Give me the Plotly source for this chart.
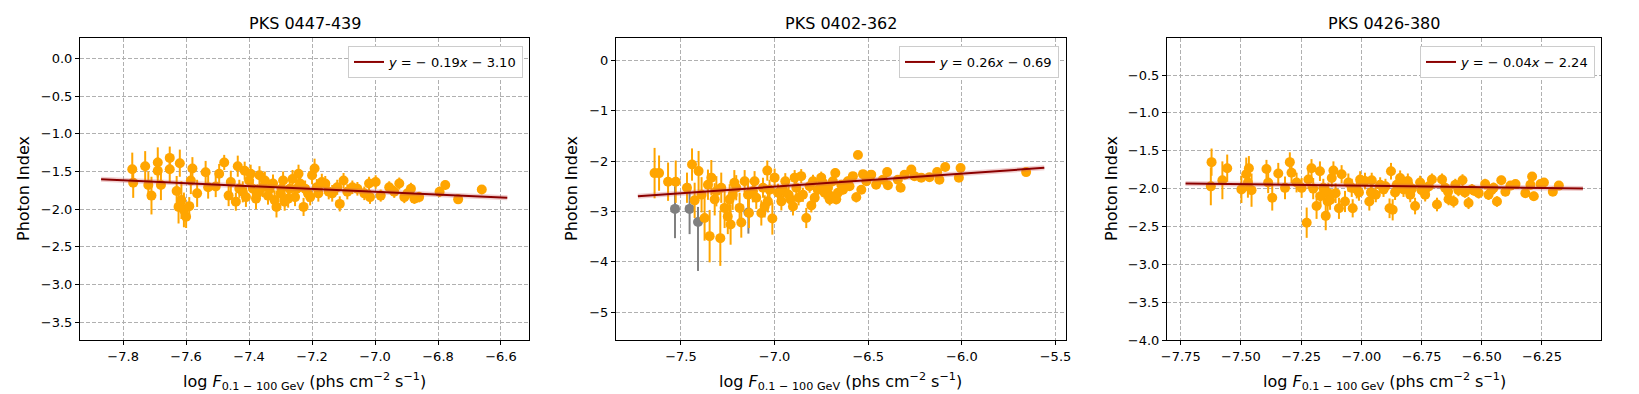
import plotly.graph_objects as go
from plotly.subplots import make_subplots

# sources
titles = ["PKS 0447-439", "PKS 0402-362", "PKS 0426-380"]

# fit coefficients (slope, intercept) and x extent of the fit line
fit_slope = [-0.19, 0.26, -0.04]
fit_icept = [-3.10, -0.69, -2.24]
fit_x0 = [-7.87, -7.73, -7.73]
fit_x1 = [-6.58, -5.56, -6.08]
fit_text = ["<i>y</i> = − 0.19<i>x</i> − 3.10",
            "<i>y</i> = 0.26<i>x</i> − 0.69",
            "<i>y</i> = − 0.04<i>x</i> − 2.24"]

# PKS 0447-439
x1 = [-7.771, -7.768, -7.730, -7.720, -7.710, -7.690, -7.690, -7.680, -7.652, -7.652,
      -7.630, -7.624, -7.620, -7.615, -7.607, -7.600, -7.590, -7.585, -7.580, -7.565,
      -7.538, -7.530, -7.506, -7.495, -7.479, -7.465, -7.458, -7.442, -7.436, -7.431,
      -7.420, -7.414, -7.410, -7.400, -7.395, -7.388, -7.378, -7.373, -7.367, -7.356,
      -7.350, -7.340, -7.335, -7.324, -7.319, -7.313, -7.300, -7.297, -7.292, -7.287,
      -7.276, -7.271, -7.262, -7.254, -7.249, -7.243, -7.238, -7.227, -7.222, -7.213,
      -7.206, -7.200, -7.192, -7.185, -7.180, -7.169, -7.158, -7.147, -7.136, -7.120,
      -7.112, -7.100, -7.088, -7.072, -7.056, -7.034, -7.019, -7.016, -6.998, -6.982,
      -6.955, -6.939, -6.923, -6.907, -6.897, -6.886, -6.875, -6.860, -6.795, -6.777,
      -6.736, -6.661]
y1 = [-1.47, -1.65, -1.43, -1.68, -1.82, -1.38, -1.49, -1.68, -1.32, -1.47,
      -1.76, -1.97, -1.39, -1.88, -2.01, -2.10, -1.96, -1.62, -1.46, -1.79,
      -1.51, -1.71, -1.70, -1.53, -1.38, -1.82, -1.64, -1.90, -1.43, -1.73,
      -1.77, -1.49, -1.84, -1.62, -1.53, -1.73, -1.86, -1.79, -1.55, -1.71,
      -1.62, -1.82, -1.73, -1.66, -1.88, -1.97, -1.79, -1.73, -1.62, -1.90,
      -1.86, -1.73, -1.60, -1.84, -1.73, -1.53, -1.66, -1.97, -1.73, -1.79,
      -1.84, -1.55, -1.46, -1.71, -1.79, -1.64, -1.66, -1.77, -1.79, -1.71,
      -1.93, -1.62, -1.77, -1.71, -1.73, -1.79, -1.66, -1.84, -1.64, -1.82,
      -1.71, -1.77, -1.66, -1.84, -1.79, -1.73, -1.86, -1.84, -1.77, -1.68,
      -1.87, -1.74]
e1 = [0.22, 0.20, 0.20, 0.18, 0.25, 0.20, 0.18, 0.20, 0.15, 0.18,
      0.20, 0.22, 0.18, 0.25, 0.23, 0.15, 0.12, 0.18, 0.15, 0.18,
      0.15, 0.15, 0.14, 0.13, 0.10, 0.14, 0.15, 0.12, 0.14, 0.12,
      0.14, 0.12, 0.13, 0.12, 0.12, 0.13, 0.14, 0.12, 0.12, 0.13,
      0.12, 0.12, 0.12, 0.12, 0.13, 0.14, 0.12, 0.12, 0.12, 0.12,
      0.12, 0.11, 0.12, 0.12, 0.11, 0.12, 0.11, 0.12, 0.11, 0.11,
      0.11, 0.12, 0.13, 0.11, 0.11, 0.11, 0.10, 0.10, 0.11, 0.10,
      0.10, 0.10, 0.10, 0.09, 0.09, 0.09, 0.09, 0.09, 0.09, 0.08,
      0.08, 0.08, 0.08, 0.08, 0.08, 0.08, 0.07, 0.07, 0.07, 0.06,
      0.06, 0.06]

# PKS 0402-362
x2 = [-7.641, -7.617, -7.569, -7.528, -7.468, -7.441, -7.427, -7.406, -7.390, -7.374,
      -7.356, -7.347, -7.338, -7.320, -7.311, -7.290, -7.285, -7.267, -7.250, -7.240,
      -7.235, -7.224, -7.215, -7.205, -7.187, -7.178, -7.160, -7.142, -7.137, -7.116,
      -7.107, -7.098, -7.071, -7.062, -7.053, -7.039, -7.036, -7.027, -7.012, -7.000,
      -6.982, -6.964, -6.955, -6.943, -6.925, -6.915, -6.902, -6.893, -6.884, -6.872,
      -6.858, -6.849, -6.831, -6.813, -6.804, -6.795, -6.786, -6.769, -6.751, -6.742,
      -6.733, -6.715, -6.706, -6.698, -6.689, -6.676, -6.671, -6.662, -6.644, -6.635,
      -6.609, -6.600, -6.582, -6.564, -6.555, -6.537, -6.528, -6.510, -6.484, -6.458,
      -6.422, -6.399, -6.395, -6.342, -6.327, -6.306, -6.270, -6.253, -6.217, -6.173,
      -6.132, -6.120, -6.089, -6.016, -6.007, -5.657]
y2 = [-2.24, -2.24, -2.41, -2.41, -2.53, -2.07, -2.78, -2.20, -2.67, -3.13,
      -2.47, -3.49, -2.33, -2.76, -2.60, -3.53, -2.53, -2.93, -3.10, -2.76,
      -3.26, -2.67, -2.43, -2.53, -2.93, -3.22, -2.40, -2.67, -3.03, -2.60,
      -2.40, -2.73, -3.03, -2.53, -2.90, -2.19, -2.80, -2.57, -3.14, -2.33,
      -2.63, -2.80, -2.57, -2.40, -2.67, -2.76, -2.90, -2.33, -2.53, -2.73,
      -2.30, -2.67, -3.13, -2.50, -2.88, -2.40, -2.73, -2.57, -2.33, -2.43,
      -2.63, -2.53, -2.76, -2.70, -2.40, -2.24, -2.76, -2.63, -2.47, -2.57,
      -2.40, -2.50, -2.30, -2.72, -1.88, -2.57, -2.26, -2.40, -2.27, -2.47,
      -2.37, -2.22, -2.48, -2.37, -2.53, -2.27, -2.17, -2.30, -2.33, -2.32,
      -2.22, -2.37, -2.12, -2.33, -2.14, -2.22]
e2 = [0.50, 0.35, 0.38, 0.42, 0.30, 0.32, 0.35, 0.40, 0.35, 0.45,
      0.30, 0.52, 0.35, 0.32, 0.30, 0.55, 0.30, 0.40, 0.35, 0.30,
      0.40, 0.30, 0.25, 0.25, 0.30, 0.30, 0.22, 0.25, 0.30, 0.22,
      0.20, 0.22, 0.25, 0.20, 0.22, 0.20, 0.22, 0.20, 0.32, 0.18,
      0.18, 0.18, 0.16, 0.16, 0.16, 0.16, 0.18, 0.15, 0.15, 0.15,
      0.14, 0.14, 0.20, 0.13, 0.14, 0.13, 0.13, 0.12, 0.12, 0.12,
      0.12, 0.11, 0.12, 0.11, 0.10, 0.10, 0.10, 0.10, 0.09, 0.09,
      0.09, 0.09, 0.08, 0.10, 0.07, 0.08, 0.07, 0.07, 0.07, 0.07,
      0.06, 0.06, 0.06, 0.06, 0.06, 0.05, 0.05, 0.05, 0.05, 0.05,
      0.05, 0.05, 0.05, 0.05, 0.05, 0.05]
# low-significance bins (grey)
xg = [-7.532, -7.454, -7.409, -7.140]
yg = [-2.95, -2.95, -3.21, -3.02]
eg_up = [0.45, 0.50, 0.30, 0.42]
eg_down = [0.58, 0.50, 0.97, 0.42]

# PKS 0426-380
x3 = [-7.625, -7.622, -7.577, -7.557, -7.498, -7.478, -7.471, -7.467, -7.456, -7.394,
      -7.387, -7.370, -7.345, -7.317, -7.297, -7.290, -7.269, -7.248, -7.227, -7.220,
      -7.207, -7.186, -7.172, -7.158, -7.148, -7.140, -7.137, -7.123, -7.116, -7.107,
      -7.093, -7.082, -7.068, -7.054, -7.040, -7.036, -7.019, -7.005, -6.985, -6.967,
      -6.957, -6.940, -6.922, -6.908, -6.883, -6.877, -6.870, -6.853, -6.839, -6.825,
      -6.807, -6.797, -6.777, -6.756, -6.735, -6.707, -6.686, -6.665, -6.652, -6.638,
      -6.617, -6.610, -6.597, -6.580, -6.555, -6.541, -6.513, -6.486, -6.472, -6.451,
      -6.437, -6.419, -6.402, -6.381, -6.360, -6.319, -6.298, -6.291, -6.284, -6.256,
      -6.242, -6.205, -6.180,
      -6.960, -6.900, -6.860, -6.820, -6.790, -6.750, -6.720, -6.640, -6.570, -6.530,
      -6.460, -7.200, -7.170, -7.130, -7.010]
y3 = [-1.97, -1.65, -1.89, -1.73, -2.01, -1.81, -1.92, -1.73, -2.02, -1.74,
      -1.92, -2.12, -1.80, -1.99, -1.65, -1.79, -1.92, -1.99, -2.45, -1.88,
      -1.73, -2.23, -1.77, -1.99, -2.36, -2.17, -2.06, -1.86, -1.76, -2.06,
      -2.26, -1.81, -2.17, -1.92, -1.99, -2.26, -2.01, -1.88, -1.90, -2.17,
      -1.89, -2.08, -1.95, -2.01, -2.26, -1.77, -2.28, -1.95, -1.86, -2.01,
      -1.90, -2.08, -2.23, -1.92, -2.08, -1.88, -2.21, -1.88, -1.99, -2.14,
      -2.17, -1.95, -2.02, -1.89, -2.19, -2.01, -2.06, -1.94, -2.08, -1.99,
      -2.17, -1.89, -2.04, -1.96, -1.94, -2.06, -1.95, -1.84, -2.10, -1.94,
      -1.92, -2.04, -1.96,
      -2.05, -1.97, -2.05, -1.95, -2.00, -2.02, -1.97, -2.04, -2.05, -2.03,
      -2.02, -2.00, -2.10, -2.15, -2.05]
e3 = [0.25, 0.18, 0.25, 0.18, 0.18, 0.22, 0.20, 0.16, 0.22, 0.12,
      0.14, 0.17, 0.14, 0.15, 0.13, 0.14, 0.13, 0.13, 0.20, 0.12,
      0.12, 0.17, 0.13, 0.12, 0.19, 0.16, 0.14, 0.12, 0.12, 0.13,
      0.14, 0.12, 0.14, 0.12, 0.12, 0.12, 0.12, 0.11, 0.11, 0.12,
      0.10, 0.10, 0.10, 0.10, 0.13, 0.11, 0.14, 0.10, 0.10, 0.10,
      0.10, 0.10, 0.11, 0.09, 0.09, 0.08, 0.09, 0.08, 0.08, 0.08,
      0.08, 0.08, 0.08, 0.08, 0.08, 0.07, 0.07, 0.07, 0.07, 0.07,
      0.07, 0.06, 0.06, 0.06, 0.06, 0.06, 0.06, 0.06, 0.06, 0.05,
      0.05, 0.05, 0.05,
      0.10, 0.10, 0.10, 0.09, 0.09, 0.08, 0.08, 0.07, 0.07, 0.06,
      0.06, 0.14, 0.14, 0.13, 0.11]

xs = [x1, x2, x3]
ys = [y1, y2, y3]
es = [e1, e2, e3]

# axis settings
x_ranges = [[-7.937, -6.511], [-7.847, -5.444], [-7.807, -6.005]]
y_ranges = [[-3.735, 0.27], [-5.55, 0.44], [-4.0, -0.01]]
x_dtick = [0.2, 0.5, 0.25]
x_fmt = [".1f", ".1f", ".2f"]
y_dtick = [0.5, 1, 0.5]
y_fmt = [".1f", "d", ".1f"]

W, H = 1639, 394
x_dom = [[72 / W, 521 / W], [608 / W, 1058 / W], [1159 / W, 1593 / W]]
y_dom = [1 - 332 / H, 1 - 30 / H]
legend_right = [515, 1051, 1587]
ylabel_x = [15, 563, 1103]

ORANGE = "#FFA500"
FONT = "DejaVu Sans"

fig = make_subplots(rows=1, cols=3)

for i in range(3):
    col = i + 1
    leg = "legend" if i == 0 else "legend%d" % (i + 1)

    if i == 1:
        fig.add_trace(go.Scatter(
            x=xg, y=yg, mode="markers",
            marker=dict(color="gray", size=10),
            error_y=dict(type="data", array=eg_up, arrayminus=eg_down, symmetric=False,
                         color="gray", thickness=2, width=0),
            showlegend=False), row=1, col=col)

    fig.add_trace(go.Scatter(
        x=xs[i], y=ys[i], mode="markers",
        marker=dict(color=ORANGE, size=10),
        error_y=dict(type="data", array=es[i], color=ORANGE, thickness=2, width=0),
        showlegend=False), row=1, col=col)

    fx = [fit_x0[i], fit_x1[i]]
    fy = [fit_slope[i] * v + fit_icept[i] for v in fx]
    # faint band around the fit
    fig.add_trace(go.Scatter(
        x=fx, y=fy, mode="lines",
        line=dict(color="rgba(205,92,92,0.3)", width=5),
        showlegend=False, hoverinfo="skip"), row=1, col=col)
    fig.add_trace(go.Scatter(
        x=fx, y=fy, mode="lines",
        line=dict(color="#8B0000", width=2),
        name=fit_text[i], legend=leg), row=1, col=col)

    axis_common = dict(
        showline=True, linecolor="black", linewidth=1, mirror=True,
        ticks="outside", ticklen=4, tickwidth=1, tickcolor="black",
        showgrid=True, gridcolor="#b0b0b0", griddash="4px,2px", gridwidth=1,
        zeroline=False, automargin=False,
        tickfont=dict(family=FONT, size=13, color="black"),
    )
    fig.update_xaxes(range=x_ranges[i], dtick=x_dtick[i], tick0=0, tickformat=x_fmt[i],
                     domain=x_dom[i], row=1, col=col, **axis_common)
    fig.update_yaxes(range=y_ranges[i], dtick=y_dtick[i], tick0=0, tickformat=y_fmt[i],
                     domain=y_dom, row=1, col=col, **axis_common)

    cx = (x_dom[i][0] + x_dom[i][1]) / 2
    fig.add_annotation(text=titles[i], x=cx, y=1 - 15 / H, xref="paper", yref="paper",
                       xanchor="center", yanchor="middle", showarrow=False,
                       font=dict(family=FONT, size=16, color="black"))
    fig.add_annotation(text="log <i>F</i><sub>0.1 − 100 GeV</sub> (phs cm<sup>−2</sup> s<sup>−1</sup>)",
                       x=cx, y=1 - 373 / H, xref="paper", yref="paper",
                       xanchor="center", yanchor="middle", showarrow=False,
                       font=dict(family=FONT, size=16, color="black"))
    fig.add_annotation(text="Photon Index", x=ylabel_x[i] / W, y=(y_dom[0] + y_dom[1]) / 2,
                       xref="paper", yref="paper", textangle=-90,
                       xanchor="center", yanchor="middle", showarrow=False,
                       font=dict(family=FONT, size=16, color="black"))

    fig.update_layout({leg: dict(
        x=legend_right[i] / W, y=1 - 38 / H, xanchor="right", yanchor="top",
        xref="paper", yref="paper",
        bgcolor="white", bordercolor="#cccccc", borderwidth=1,
        font=dict(family=FONT, size=13, color="black"), itemwidth=30,
    )})

fig.update_layout(
    width=W, height=H,
    margin=dict(l=0, r=0, t=0, b=0, autoexpand=False),
    paper_bgcolor="white", plot_bgcolor="white",
    font=dict(family=FONT, color="black"),
)

fig.write_html("out.html")
